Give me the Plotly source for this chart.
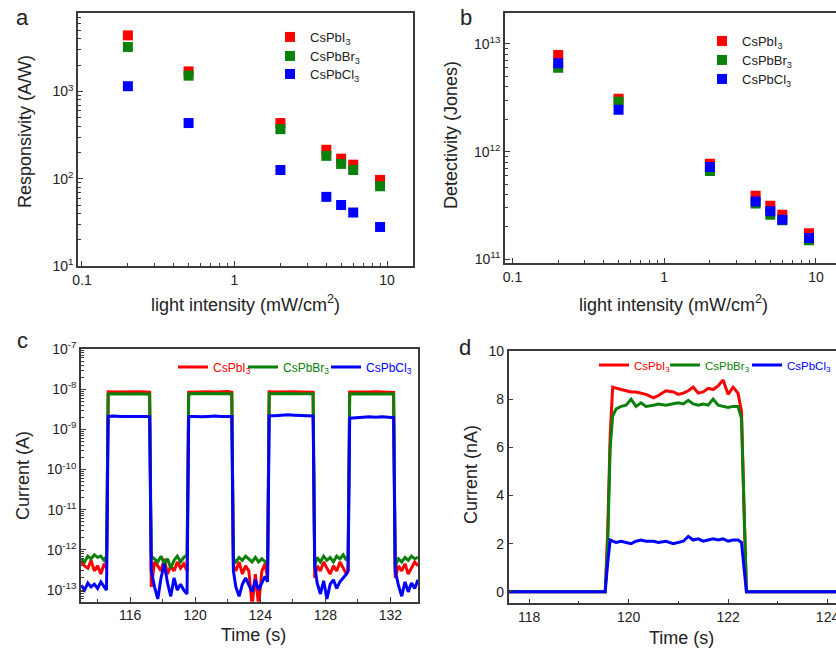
import plotly.graph_objects as go

# ---------------- data ----------------
series_names = ["CsPbI<sub>3</sub>", "CsPbBr<sub>3</sub>", "CsPbCl<sub>3</sub>"]
series_colors = ["#ff0000", "#0b800b", "#0000ff"]

# panel a / b : light intensity (mW/cm2)
intensity = [0.2, 0.5, 2, 4, 5, 6, 9]
resp_I = [4400, 1700, 435, 215, 170, 145, 97]
resp_Br = [3240, 1520, 370, 183, 148, 126, 82]
resp_Cl = [1150, 435, 126, 62, 50, 41, 28]

det_I = [7.9e12, 3.1e12, 7.7e11, 3.9e11, 3.15e11, 2.6e11, 1.75e11]
det_Br = [6.0e12, 2.9e12, 6.6e11, 3.3e11, 2.6e11, 2.3e11, 1.5e11]
det_Cl = [6.6e12, 2.45e12, 7.2e11, 3.45e11, 2.8e11, 2.33e11, 1.58e11]

# panel c : time (s) and current (A)
time_c = [113.0, 113.2, 113.4, 113.6, 113.8, 114.0, 114.2, 114.4, 114.55,
          114.65, 115.0, 115.4, 115.8, 116.2, 116.6, 117.0, 117.2,
          117.3, 117.5, 117.7, 117.9, 118.1, 118.3, 118.5, 118.7, 118.9, 119.1, 119.3, 119.5,
          119.6, 120.0, 120.4, 120.8, 121.2, 121.6, 122.0, 122.25,
          122.35, 122.5, 122.7, 122.9, 123.1, 123.3, 123.5, 123.7, 123.9, 124.1, 124.3, 124.45,
          124.55, 124.9, 125.3, 125.7, 126.1, 126.5, 126.9, 127.25,
          127.35, 127.5, 127.7, 127.9, 128.1, 128.3, 128.5, 128.7, 128.9, 129.1, 129.3, 129.4,
          129.5, 129.9, 130.3, 130.7, 131.1, 131.5, 131.9, 132.2,
          132.3, 132.5, 132.7, 132.9, 133.1, 133.3, 133.5, 133.7]
cur_c_I = [5e-13, 4e-13, 3.5e-13, 5.5e-13, 3e-13, 4e-13, 2.5e-13, 4.5e-13, 3.5e-13,
           8.6e-9, 8.5e-9, 8.6e-9, 8.5e-9, 8.5e-9, 8.6e-9, 8.5e-9, 8.4e-9,
           1.2e-13, 5e-13, 4e-13, 3e-13, 6e-13, 2.5e-13, 4e-13, 3e-13, 5e-13, 3.5e-13, 4.5e-13, 3e-13,
           8.4e-9, 8.6e-9, 8.5e-9, 8.7e-9, 8.5e-9, 8.6e-9, 8.8e-9, 8.4e-9,
           4e-13, 3e-13, 5e-13, 2.5e-13, 4e-13, 3e-13, 4e-14, 2.5e-13, 4e-14, 3e-13, 4.5e-13, 2e-13,
           8.6e-9, 8.5e-9, 8.6e-9, 8.7e-9, 8.6e-9, 8.5e-9, 8.6e-9, 8.4e-9,
           2e-13, 4e-13, 3e-13, 5e-13, 3.5e-13, 2.5e-13, 4e-13, 3e-13, 5e-13, 3.5e-13, 2.5e-13, 3e-13,
           8.5e-9, 8.5e-9, 8.4e-9, 8.5e-9, 8.6e-9, 8.5e-9, 8.4e-9, 8.3e-9,
           2e-13, 4e-13, 3e-13, 4.5e-13, 2.5e-13, 3.5e-13, 5e-13, 4e-13]
cur_c_Br = [6e-13, 5e-13, 7e-13, 6e-13, 7.5e-13, 6.5e-13, 7e-13, 5.5e-13, 7e-13,
            7.6e-9, 7.7e-9, 7.6e-9, 7.7e-9, 7.6e-9, 7.7e-9, 7.6e-9, 7.5e-9,
            7e-13, 6e-13, 5e-13, 7e-13, 4.5e-13, 6e-13, 3.5e-13, 5.5e-13, 7e-13, 5e-13, 6.5e-13, 7.5e-13,
            7.6e-9, 7.8e-9, 7.7e-9, 7.8e-9, 7.7e-9, 7.8e-9, 7.7e-9, 7.6e-9,
            6e-13, 5e-13, 6.5e-13, 5.5e-13, 7e-13, 6e-13, 5e-13, 6.5e-13, 5e-13, 6e-13, 5e-13, 4.5e-13,
            7.7e-9, 7.8e-9, 7.7e-9, 7.8e-9, 7.7e-9, 7.8e-9, 7.7e-9, 7.6e-9,
            4e-13, 6.5e-13, 5e-13, 7e-13, 5.5e-13, 6.5e-13, 5e-13, 7e-13, 6e-13, 7.5e-13, 5.5e-13, 7e-13,
            7.6e-9, 7.7e-9, 7.6e-9, 7.7e-9, 7.7e-9, 7.6e-9, 7.7e-9, 7.6e-9,
            4e-13, 6e-13, 5e-13, 6.5e-13, 5.5e-13, 7e-13, 6e-13, 6.5e-13]
cur_c_Cl = [1.3e-13, 1.0e-13, 1.5e-13, 1.2e-13, 1.4e-13, 1.1e-13, 1.6e-13, 1.2e-13, 1.0e-13,
            2.1e-9, 2.15e-9, 2.1e-9, 2.1e-9, 2.15e-9, 2.1e-9, 2.1e-9, 2.05e-9,
            3e-13, 1.2e-13, 6e-14, 2e-13, 4.5e-13, 1.5e-13, 7e-14, 2e-13, 1e-13, 1.4e-13, 1e-13, 8e-14,
            2.1e-9, 2.1e-9, 2.05e-9, 2.1e-9, 2.15e-9, 2.1e-9, 2.15e-9, 2.1e-9,
            3e-13, 1.2e-13, 7e-14, 1.4e-13, 2e-13, 1.3e-13, 9e-14, 1.8e-13, 1e-13, 1.5e-13, 2.2e-13, 1.6e-13,
            2.2e-9, 2.2e-9, 2.25e-9, 2.3e-9, 2.25e-9, 2.2e-9, 2.2e-9, 2.15e-9,
            4e-13, 1.5e-13, 8e-14, 1.7e-13, 6e-14, 1.4e-13, 1.8e-13, 1.1e-13, 1.6e-13, 2e-13, 2.5e-13, 3e-13,
            1.9e-9, 1.95e-9, 2.0e-9, 2.05e-9, 2.0e-9, 2.05e-9, 2.0e-9, 1.95e-9,
            3e-13, 1.3e-13, 7e-14, 1.6e-13, 9e-14, 1.5e-13, 1.1e-13, 1.8e-13]

# panel d : time (s) and current (nA)
time_d = [117.5, 119.53, 119.58, 119.63, 119.68, 119.75, 119.85, 119.95, 120.05, 120.15,
          120.25, 120.35, 120.5, 120.6, 120.75, 120.9, 121.0, 121.1, 121.2, 121.3,
          121.4, 121.5, 121.6, 121.7, 121.8, 121.9, 122.0, 122.1, 122.2, 122.27,
          122.32, 122.37, 124.3]
cur_d_I = [0, 0, 2.5, 6.5, 8.5, 8.45, 8.4, 8.35, 8.3, 8.3,
           8.25, 8.2, 8.05, 8.15, 8.35, 8.3, 8.2, 8.25, 8.35, 8.5,
           8.25, 8.3, 8.45, 8.4, 8.55, 8.8, 8.2, 8.5, 8.25, 7.5,
           3.5, 0, 0]
cur_d_Br = [0, 0, 2.0, 6.0, 7.3, 7.6, 7.7, 7.75, 8.0, 7.7,
            7.85, 7.7, 7.75, 7.8, 7.75, 7.8, 7.85, 7.8, 7.95, 7.8,
            7.75, 7.8, 7.75, 8.0, 7.75, 7.7, 7.65, 7.7, 7.7, 7.2,
            3.3, 0, 0]
cur_d_Cl = [0, 0, 1.2, 2.15, 2.1, 2.05, 2.1, 2.05, 2.0, 2.1,
            2.15, 2.1, 2.1, 2.05, 2.1, 2.0, 2.05, 2.1, 2.3, 2.15,
            2.2, 2.1, 2.15, 2.2, 2.15, 2.2, 2.1, 2.15, 2.15, 2.05,
            1.0, 0, 0]

# tick labels
log_x_vals = [0.1, 1, 10]
log_x_text = ["0.1", "1", "10"]
a_y_vals = [10, 100, 1000]
a_y_text = ["10<sup>1</sup>", "10<sup>2</sup>", "10<sup>3</sup>"]
b_y_vals = [1e11, 1e12, 1e13]
b_y_text = ["10<sup>11</sup>", "10<sup>12</sup>", "10<sup>13</sup>"]
c_y_vals = [1e-13, 1e-12, 1e-11, 1e-10, 1e-9, 1e-8, 1e-7]
c_y_text = ["10<sup>-13</sup>", "10<sup>-12</sup>", "10<sup>-11</sup>", "10<sup>-10</sup>",
            "10<sup>-9</sup>", "10<sup>-8</sup>", "10<sup>-7</sup>"]

# ---------------- figure ----------------
FONT = "Arial, Liberation Sans, sans-serif"
AXC = "#3a3a3a"
TXT = "#222222"
W, H = 836, 650

fig = go.Figure()

resp = [resp_I, resp_Br, resp_Cl]
det = [det_I, det_Br, det_Cl]
cc = [cur_c_I, cur_c_Br, cur_c_Cl]
dd = [cur_d_I, cur_d_Br, cur_d_Cl]

# one legend per entry so every entry can be placed like the reference
legend_pos = {}   # legend id -> ((x px, center y px), font size, x anchor)
a_leg = [(270, 37), (270, 56), (270, 74)]
b_leg = [(702, 41), (702, 60), (702, 79)]
c_leg = [(173, 367), (243, 367), (326, 367)]
d_leg = [(594, 365), (665, 365), (836, 365)]

k = 0
def next_legend():
    global k
    k += 1
    return "legend" if k == 1 else f"legend{k}"

for i in range(3):
    lg = next_legend(); legend_pos[lg] = (a_leg[i], 13, "left")
    fig.add_trace(go.Scatter(x=intensity, y=resp[i], mode="markers", name=series_names[i],
                             marker=dict(symbol="square", size=10, color=series_colors[i]),
                             xaxis="x", yaxis="y", legend=lg))
for i in range(3):
    lg = next_legend(); legend_pos[lg] = (b_leg[i], 13, "left")
    fig.add_trace(go.Scatter(x=intensity, y=det[i], mode="markers", name=series_names[i],
                             marker=dict(symbol="square", size=10, color=series_colors[i]),
                             xaxis="x2", yaxis="y2", legend=lg))
for i in range(3):
    lg = next_legend(); legend_pos[lg] = (c_leg[i], 12, "left")
    fig.add_trace(go.Scatter(x=time_c, y=cc[i], mode="lines",
                             name=f"<span style='color:{series_colors[i]}'>{series_names[i]}</span>",
                             line=dict(color=series_colors[i], width=3),
                             xaxis="x3", yaxis="y3", legend=lg))
for i in range(3):
    lg = next_legend(); legend_pos[lg] = (d_leg[i], 11.5, "right" if i == 2 else "left")
    fig.add_trace(go.Scatter(x=time_d, y=dd[i], mode="lines",
                             name=f"<span style='color:{series_colors[i]}'>{series_names[i]}</span>",
                             line=dict(color=series_colors[i], width=3),
                             xaxis="x4", yaxis="y4", legend=lg))

def axis(**kw):
    base = dict(showline=True, linecolor=AXC, linewidth=1.5, mirror=True,
                ticks="inside", ticklen=5, tickwidth=1.2, tickcolor=AXC,
                showgrid=False, zeroline=False, ticklabeloverflow="allow",
                tickfont=dict(family=FONT, size=14, color=TXT))
    base.update(kw)
    return base

def minor_log(decades):
    vals = []
    for d in decades:
        for m in range(2, 10):
            vals.append(m * d)
    return vals

fig.update_layout(
    width=W, height=H,
    margin=dict(l=0, r=0, t=0, b=0, autoexpand=False),
    showlegend=True,
    paper_bgcolor="white", plot_bgcolor="white",
    font=dict(family=FONT, color=TXT),
    xaxis=axis(domain=[0.0933, 0.494], type="log", range=[-1.026, 1.17], anchor="y",
               tickmode="array", tickvals=log_x_vals, ticktext=log_x_text,
               minor=dict(tickmode="array", tickvals=minor_log([0.1, 1]), ticks="inside",
                          ticklen=3, tickcolor=AXC)),
    yaxis=axis(domain=[0.5908, 0.98], type="log", range=[1, 3.9], anchor="x",
               tickmode="array", tickvals=a_y_vals, ticktext=a_y_text,
               minor=dict(tickmode="array", tickvals=minor_log([10, 100, 1000]), ticks="inside",
                          ticklen=3, tickcolor=AXC)),
    xaxis2=axis(domain=[0.604, 1.0], type="log", range=[-1.05, 1.132], anchor="y2",
                tickmode="array", tickvals=log_x_vals, ticktext=log_x_text,
                minor=dict(tickmode="array", tickvals=minor_log([0.1, 1, 10]), ticks="inside",
                           ticklen=3, tickcolor=AXC)),
    yaxis2=axis(domain=[0.5954, 0.9805], type="log", range=[10.966, 13.29], anchor="x2",
                tickmode="array", tickvals=b_y_vals, ticktext=b_y_text,
                minor=dict(tickmode="array", tickvals=minor_log([1e10, 1e11, 1e12, 1e13]), ticks="inside",
                           ticklen=3, tickcolor=AXC)),
    xaxis3=axis(domain=[0.0969, 0.5], range=[112.98, 133.7], anchor="y3",
                tickmode="linear", tick0=116, dtick=4,
                minor=dict(tickmode="linear", tick0=114, dtick=2, ticks="inside",
                           ticklen=3, tickcolor=AXC)),
    yaxis3=axis(domain=[0.0743, 0.463], type="log", range=[-13.29, -7], anchor="x3",
                tickmode="array", tickvals=c_y_vals, ticktext=c_y_text,
                minor=dict(tickmode="array", tickvals=minor_log([1e-14, 1e-13, 1e-12, 1e-11, 1e-10, 1e-9, 1e-8]),
                           ticks="inside", ticklen=3, tickcolor=AXC)),
    xaxis4=axis(domain=[0.6085, 1.0], range=[117.59, 124.17], anchor="y4",
                tickmode="linear", tick0=118, dtick=2,
                minor=dict(tickmode="linear", tick0=119, dtick=1, ticks="inside",
                           ticklen=3, tickcolor=AXC)),
    yaxis4=axis(domain=[0.0718, 0.46], range=[-0.48, 10], anchor="x4",
                tickmode="linear", tick0=0, dtick=2),
)

legend_layout = {}
for lg, ((lx, ly), fs, xa) in legend_pos.items():
    legend_layout[lg] = dict(x=lx / W, y=1 - ly / H, xanchor=xa, yanchor="middle",
                             bgcolor="rgba(0,0,0,0)", borderwidth=0, visible=True,
                             font=dict(family=FONT, size=fs, color=TXT))
fig.update_layout(**legend_layout)

ann = []
def title(text, x, y, angle=0, size=18):
    ann.append(dict(text=text, x=x / W, y=1 - y / H, xref="paper", yref="paper",
                    xanchor="center", yanchor="middle", textangle=angle, showarrow=False,
                    font=dict(family=FONT, size=size, color=TXT)))

title("Responsivity (A/W)", 25, 132, -90)
title("light intensity (mW/cm<sup>2</sup>)", 246, 303)
title("Detectivity (Jones)", 451, 135, -90)
title("light intensity (mW/cm<sup>2</sup>)", 673, 303)
title("Current (A)", 23, 476, -90)
title("Time (s)", 254, 635)
title("Current (nA)", 471, 475, -90)
title("Time (s)", 681, 638)
title("a", 22, 17, size=22)
title("b", 466, 18, size=22)
title("c", 22, 340, size=22)
title("d", 465, 347, size=22)
fig.update_layout(annotations=ann)

fig.write_html("out.html")
